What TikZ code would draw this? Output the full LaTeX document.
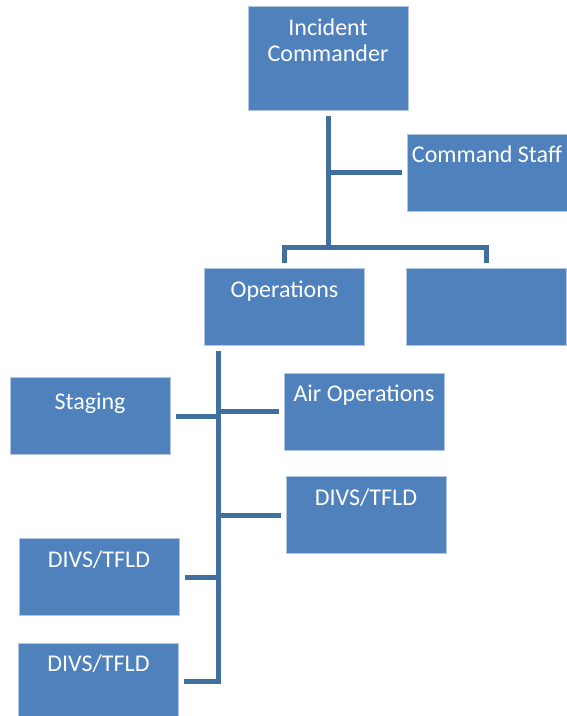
\documentclass[tikz,border=0pt]{standalone}
\usepackage{fontspec}
\setmainfont{Carlito}
\usetikzlibrary{calc}
\definecolor{boxblue}{HTML}{4F81BD}
\definecolor{lineblue}{HTML}{41709F}

\begin{document}
\begin{tikzpicture}[x=1pt,y=-1pt]
    \tikzstyle{box}=[rectangle,fill=boxblue,draw=boxblue!45!white,line width=0.8pt,minimum width=160pt,minimum height=77pt,inner sep=0pt,outer sep=5.5pt]
    \tikzstyle{box text}=[anchor=north,text=white,inner sep=0pt,align=center,font=\fontsize{24}{26}\selectfont,execute at begin node=\strut,yshift=-16pt]
    \tikzstyle{connector}=[line width=5pt,color=lineblue]

    \useasboundingbox (0,0) rectangle (567,716);

    % Command level
    \node[box,minimum height=104pt,label={[box text,yshift=-2pt]north:Incident\\Commander}] (ic) at (328,58) {};
    \node[box,label={[box text]north:Command Staff}] (cs) at (487,172.5) {};

    % Sections
    \node[box,label={[box text]north:Operations}] (ops) at (284.5,307) {};
    \node[box] (oth) at (486,307) {};

    % Under operations
    \node[box,label={[box text,yshift=-3pt]north:Staging}] (stg) at (90,416) {};
    \node[box,label={[box text]north:Air Operations}] (air) at (364,411.5) {};
    \node[box,label={[box text]north:DIVS/TFLD}] (dv1) at (366,515) {};
    \node[box,label={[box text]north:DIVS/TFLD}] (dv2) at (99,577) {};
    \node[box,label={[box text]north:DIVS/TFLD}] (dv3) at (98.5,681.5) {};

	\coordinate (bar) at (328,247);
	\coordinate (spine) at (218,351);

    % Commander to staff and sections
    \draw[style=connector] (ic.south) -- (bar);
    \draw[style=connector] (cs.west) -- (cs.west -| bar);
    \draw[style=connector] (ops.north) |- (bar) -| (oth.north);

    % Operations branch
    \draw[style=connector] (spine) |- (dv3.east);
    \draw[style=connector] (stg.east) -- (stg.east -| spine);
    \draw[style=connector] (air.west) -- (air.west -| spine);
    \draw[style=connector] (dv1.west) -- (dv1.west -| spine);
    \draw[style=connector] (dv2.east) -- (dv2.east -| spine);

\end{tikzpicture}
\end{document}
